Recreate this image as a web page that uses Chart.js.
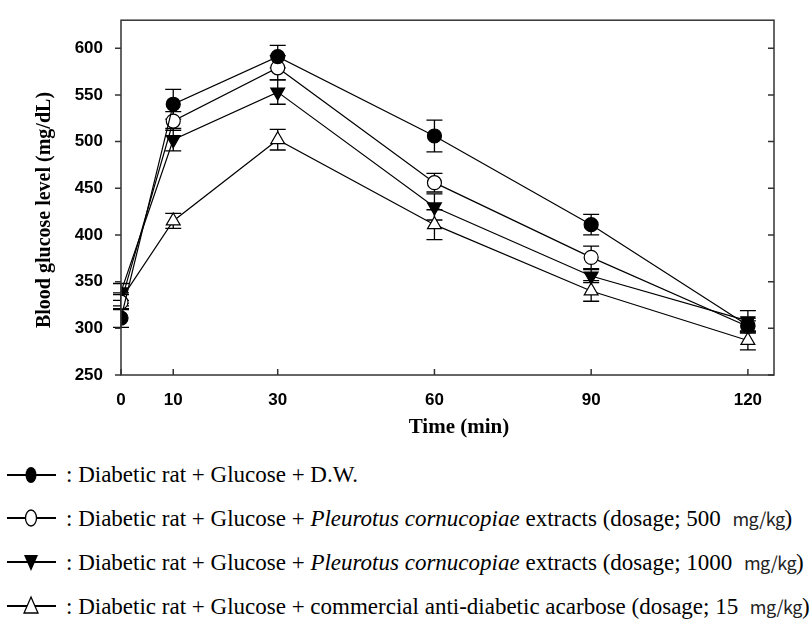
<!DOCTYPE html>
<html>
<head>
<meta charset="utf-8">
<script src="https://cdn.jsdelivr.net/npm/chart.js@4.4.1/dist/chart.umd.min.js"></script>
<style>
  body { margin: 0; background: #fff; }
  #wrap { position: relative; width: 810px; height: 630px; }
  #chartBox { position: absolute; left: 0; top: 0; width: 810px; height: 440px; }
  .row { position: absolute; left: 0; height: 24px; white-space: nowrap; }
  .row svg { position: absolute; left: 0; top: 0; }
  .row span.txt { position: absolute; left: 66px; top: 0; line-height: 24px;
    font-family: "Liberation Serif", "Times New Roman", serif; font-size: 23px; color: #000; }
  .unit { font-family: "Noto Sans CJK SC", sans-serif; font-size: 18px; color: #222; letter-spacing: -0.5px; }
</style>
</head>
<body>
<div id="wrap">
  <div id="chartBox"><canvas id="myChart"></canvas></div>
  <div class="row" style="top:463px">
    <svg width="60" height="24"><line x1="7" y1="12" x2="56" y2="12" stroke="#000" stroke-width="2"/><ellipse cx="31" cy="12" rx="5.5" ry="8" fill="#000"/></svg>
    <span class="txt">: Diabetic rat + Glucose + D.W.</span>
  </div>
  <div class="row" style="top:506px">
    <svg width="60" height="24"><line x1="7" y1="12" x2="56" y2="12" stroke="#000" stroke-width="2"/><ellipse cx="31" cy="12" rx="5.5" ry="8" fill="#fff" stroke="#000" stroke-width="1.3"/></svg>
    <span class="txt">: Diabetic rat + Glucose + <i>Pleurotus cornucopiae</i> extracts (dosage; 500&nbsp; <span class="unit">mg/kg</span>)</span>
  </div>
  <div class="row" style="top:550px">
    <svg width="60" height="24"><line x1="7" y1="12" x2="56" y2="12" stroke="#000" stroke-width="2"/><polygon points="24,5 38,5 31,21" fill="#000"/></svg>
    <span class="txt">: Diabetic rat + Glucose + <i>Pleurotus cornucopiae</i> extracts (dosage; 1000&nbsp; <span class="unit">mg/kg</span>)</span>
  </div>
  <div class="row" style="top:594px">
    <svg width="60" height="24"><line x1="7" y1="12" x2="56" y2="12" stroke="#000" stroke-width="2"/><polygon points="31,3 38,19 24,19" fill="#fff" stroke="#000" stroke-width="1.3"/></svg>
    <span class="txt">: Diabetic rat + Glucose + commercial anti-diabetic acarbose (dosage; 15&nbsp; <span class="unit">mg/kg</span>)</span>
  </div>
</div>
<script>
const times = [0, 10, 30, 60, 90, 120];
const yTicks = [250, 300, 350, 400, 450, 500, 550, 600];

const dwMean = [311, 540, 591, 506, 411, 303];
const dwErr = [10, 16, 12, 17, 11, 8];
const pc500Mean = [328, 522, 579, 456, 376, 302];
const pc500Err = [8, 10, 13, 10, 12, 6];
const pc1000Mean = [339, 502, 553, 430, 356, 308];
const pc1000Err = [9, 12, 13, 14, 7, 11];
const acarMean = [331, 415, 502, 411, 340, 287];
const acarErr = [7, 8, 11, 16, 11, 10];

function pts(means) {
  return times.map((t, i) => ({ x: t, y: means[i] }));
}

// vertical error bars with caps, drawn under the lines and markers
const errorBars = {
  id: 'errorBars',
  beforeDatasetsDraw(chart) {
    const { ctx, scales: { x, y } } = chart;
    ctx.save();
    ctx.strokeStyle = '#000';
    ctx.lineWidth = 1.3;
    chart.data.datasets.forEach(ds => {
      ds.data.forEach((p, i) => {
        const px = x.getPixelForValue(p.x);
        const top = y.getPixelForValue(p.y + ds.errors[i]);
        const bot = y.getPixelForValue(p.y - ds.errors[i]);
        ctx.beginPath();
        ctx.moveTo(px, top); ctx.lineTo(px, bot);
        ctx.moveTo(px - 8, top); ctx.lineTo(px + 8, top);
        ctx.moveTo(px - 8, bot); ctx.lineTo(px + 8, bot);
        ctx.stroke();
      });
    });
    ctx.restore();
  }
};

// frame, tick marks and axis titles
const frame = {
  id: 'frame',
  afterDraw(chart) {
    const { ctx, chartArea: a, scales: { x, y } } = chart;
    ctx.save();
    ctx.strokeStyle = '#333';
    ctx.lineWidth = 1.5;
    ctx.strokeRect(a.left, a.top, a.right - a.left, a.bottom - a.top);
    ctx.beginPath();
    yTicks.forEach(v => {
      const py = y.getPixelForValue(v);
      ctx.moveTo(a.left - 6, py); ctx.lineTo(a.left, py);
      ctx.moveTo(a.right - 6, py); ctx.lineTo(a.right, py);
    });
    times.forEach(t => {
      const px = x.getPixelForValue(t);
      ctx.moveTo(px, a.bottom - 6); ctx.lineTo(px, a.bottom);
    });
    ctx.stroke();

    ctx.fillStyle = '#000';
    ctx.font = 'bold 21px "Liberation Serif", serif';
    ctx.textAlign = 'center';
    ctx.textBaseline = 'middle';
    ctx.fillText('Time (min)', 459, 428);
    ctx.font = 'bold 20px "Liberation Serif", serif';
    ctx.translate(45, 210);
    ctx.rotate(-Math.PI / 2);
    ctx.fillText('Blood glucose level (mg/dL)', 0, 0);
    ctx.restore();
  }
};

function series(label, means, errs, style, fill, rotation) {
  return {
    label,
    data: pts(means),
    errors: errs,
    borderColor: '#000',
    borderWidth: 1.2,
    pointStyle: style,
    pointRotation: rotation || 0,
    pointRadius: style === 'triangle' ? 8 : 7,
    pointBackgroundColor: fill,
    pointBorderColor: '#000',
    pointBorderWidth: 1.2,
    tension: 0
  };
}

const tickFont = { family: 'Liberation Sans, Arial, sans-serif', size: 17, weight: 'bold' };

new Chart('myChart', {
  type: 'line',
  data: {
    datasets: [
      series('D.W.', dwMean, dwErr, 'circle', '#000'),
      series('PC 500', pc500Mean, pc500Err, 'circle', '#fff'),
      series('PC 1000', pc1000Mean, pc1000Err, 'triangle', '#000', 180),
      series('Acarbose', acarMean, acarErr, 'triangle', '#fff')
    ]
  },
  options: {
    animation: false,
    responsive: true,
    maintainAspectRatio: false,
    layout: { padding: { top: 13, right: 36, left: 0, bottom: 0 } },
    plugins: { legend: { display: false }, tooltip: { enabled: false } },
    scales: {
      x: {
        type: 'linear',
        min: 0,
        max: 125,
        grid: { display: false },
        border: { display: false },
        afterBuildTicks: s => { s.ticks = times.map(v => ({ value: v })); },
        afterFit: s => { s.height = 65; },
        ticks: { color: '#000', padding: 7, maxRotation: 0, font: tickFont }
      },
      y: {
        min: 250,
        max: 630,
        grid: { display: false },
        border: { display: false },
        afterBuildTicks: s => { s.ticks = yTicks.map(v => ({ value: v })); },
        afterFit: s => { s.width = 121; },
        ticks: { color: '#000', padding: 10, font: tickFont }
      }
    }
  },
  plugins: [errorBars, frame]
});
</script>
</body>
</html>
